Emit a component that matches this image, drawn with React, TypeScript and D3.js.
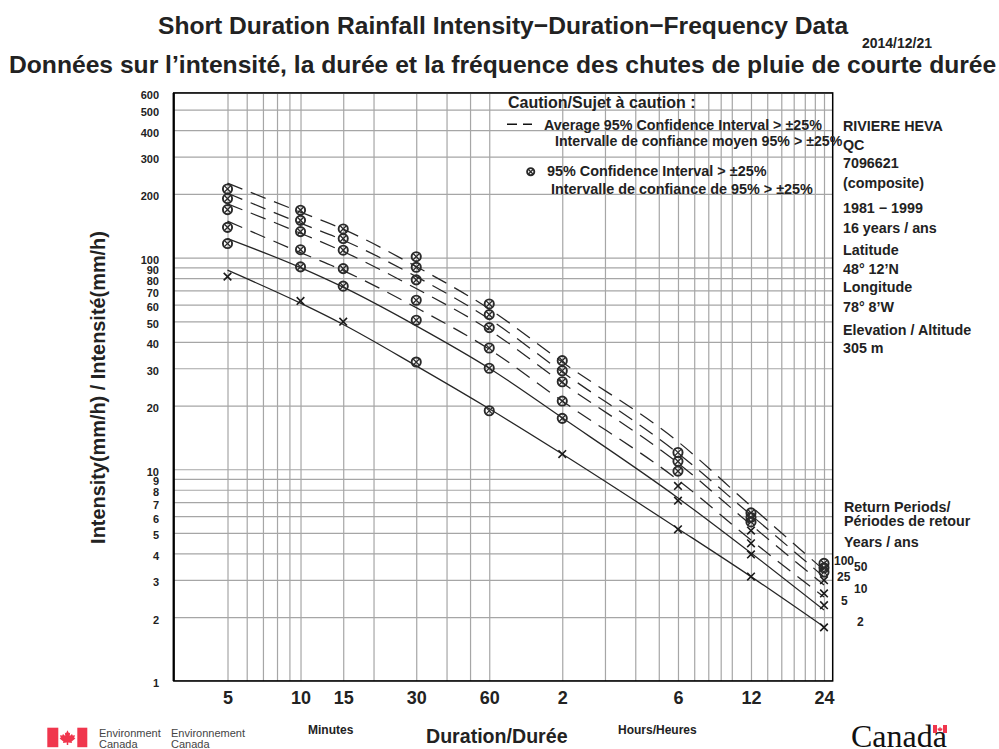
import React, { useEffect, useRef } from 'react';
import * as d3 from 'd3';

// durations in minutes
const lineDurations = [5, 10, 15, 30, 60, 120, 360, 720, 1440];
const gridDurations = [5, 6, 7, 8, 9, 10, 15, 20, 30, 40, 50, 60, 120, 180, 240, 300, 360, 420, 480, 540, 600, 720, 840, 960, 1080, 1200, 1320, 1440];
const labelDurations = [5, 10, 15, 30, 60, 120, 360, 720, 1440];
const durationLabels = ['5', '10', '15', '30', '60', '2', '6', '12', '24'];
const gridIntensity = [1, 2, 3, 4, 5, 6, 7, 8, 9, 10, 20, 30, 40, 50, 60, 70, 80, 90, 100, 200, 300, 400, 500, 600];

// fitted curves, mm/h
const fit100 = [224.7, 163.9, 136.2, 90.7, 57.2, 32.1, 13.5, 6.69, 3.34];
const fit50 = [201.5, 145.4, 120.8, 81.3, 51.2, 28.8, 11.9, 6.08, 3.1];
const fit25 = [179.4, 130.4, 106.8, 71.4, 45.5, 25.6, 10.7, 5.46, 2.84];
const fit10 = [148.6, 105.6, 86.8, 58.0, 36.9, 21.0, 8.9, 4.63, 2.49];
const fit5 = [123, 89.7, 72.5, 47.6, 30.0, 17.5, 7.32, 4.02, 2.16];
const fit2 = [87.2, 60.9, 48.3, 30.8, 19.3, 11.8, 5.24, 3.11, 1.8];

// observed points, [minutes, mm/h]
const circledPoints: [number, number][] = [
    [5, 211], [5, 190], [5, 168.6], [5, 139], [5, 116.5],
    [10, 167.5], [10, 150], [10, 132.7], [10, 109], [10, 90.4],
    [15, 136.6], [15, 123], [15, 108.4], [15, 88.7], [15, 73.3],
    [30, 101], [30, 90], [30, 78.5], [30, 62.9], [30, 50.6], [30, 32.1],
    [60, 60.4], [60, 53.8], [60, 46.7], [60, 37.4], [60, 30], [60, 18.9],
    [120, 32.6], [120, 29.2], [120, 25.9], [120, 21], [120, 17.4],
    [360, 12.0], [360, 10.9], [360, 9.8],
    [720, 6.22], [720, 5.92], [720, 5.64],
    [1440, 3.59], [1440, 3.42], [1440, 3.27],
];
const crossedPoints: [number, number][] = [
    [5, 81.3], [10, 62.4], [15, 49.8], [120, 11.8],
    [360, 8.34], [360, 7.1], [360, 5.2],
    [720, 5.13], [720, 4.47], [720, 3.96], [720, 3.11],
    [1440, 2.99], [1440, 2.59], [1440, 2.28], [1440, 1.79],
];

const returnLabels = ['100', '50', '25', '10', '5', '2'];
const returnLabelX = [834, 854, 837, 854, 841, 857];
const returnLabelY = [565, 571, 581, 593, 605, 626];

const stationLines = ['RIVIERE HEVA', 'QC', '7096621', '(composite)', '1981 − 1999', '16 years / ans', 'Latitude', '48°  12’N', 'Longitude', '78° 8’W', 'Elevation / Altitude', '305 m'];
const stationY = [131, 150, 168, 188, 213, 233, 255, 274, 292, 312, 335, 353];

const FONT = '"Liberation Sans", Arial, sans-serif';
const INK = '#222';

const MAPLE = 'M0,-9 L2,-5 L3.5,-6 L3,-1.5 L6,-4 L7,-2 L10,-2.5 L9,1 L10.5,2 L5.5,6 L6,8 L1,7.3 L1,10.5 L-1,10.5 L-1,7.3 L-6,8 L-5.5,6 L-10.5,2 L-9,1 L-10,-2.5 L-7,-2 L-6,-4 L-3,-1.5 L-3.5,-6 L-2,-5 Z';

const App: React.FC = () => {
    const svgRef = useRef<SVGSVGElement>(null);

    useEffect(() => {
        if (!svgRef.current) return;
        const svg = d3.select(svgRef.current);
        svg.selectAll('*').remove();

        const x = d3.scaleLog().domain([3, 1564]).range([173.7, 832.7]);
        const y = d3.scaleLog().domain([1, 600]).range([680.9, 92.9]);
        const bottom = y(1);
        const left = x(3);

        const label = (tx: number, ty: number, str: string, size: number, weight = 'bold', anchor = 'start') =>
            svg.append('text').attr('x', tx).attr('y', ty).attr('font-family', FONT).attr('font-size', size)
                .attr('font-weight', weight).attr('text-anchor', anchor).attr('fill', INK).text(str);

        // grid
        const xGrid = svg.append('g').attr('transform', `translate(0,${bottom})`)
            .call(d3.axisBottom(x).tickValues(gridDurations).tickSize(y(600) - bottom).tickFormat(() => ''));
        const yGrid = svg.append('g').attr('transform', `translate(${left},0)`)
            .call(d3.axisLeft(y).tickValues(gridIntensity).tickSize(left - x(1564)).tickFormat(() => ''));
        [xGrid, yGrid].forEach(g => {
            g.select('.domain').remove();
            g.selectAll('.tick line').attr('stroke', '#a6a6a6').attr('stroke-width', 1.2);
        });

        // tick labels
        const xLabels = svg.append('g').attr('transform', `translate(0,${bottom})`)
            .call(d3.axisBottom(x).tickValues(labelDurations).tickSize(0)
                .tickFormat((d) => durationLabels[labelDurations.indexOf(+d)]));
        xLabels.select('.domain').remove();
        xLabels.selectAll('text').attr('y', 23).attr('dy', 0).attr('font-family', FONT).attr('font-size', 18)
            .attr('font-weight', 'bold').attr('fill', INK);

        const yLabels = svg.append('g').attr('transform', 'translate(159,0)')
            .call(d3.axisLeft(y).tickValues(gridIntensity).tickSize(0).tickPadding(0).tickFormat(d3.format('d')));
        yLabels.select('.domain').remove();
        yLabels.selectAll('text').attr('dy', 6).attr('font-family', FONT).attr('font-size', 11)
            .attr('font-weight', 'bold').attr('fill', INK);

        // fitted curves
        const line = d3.line<number>()
            .x((_, i) => x(lineDurations[i]))
            .y(d => y(d))
            .curve(d3.curveMonotoneX);
        [fit100, fit50, fit25, fit10].forEach(values => {
            svg.append('path').attr('d', line(values)).attr('fill', 'none').attr('stroke', '#262626')
                .attr('stroke-width', 1.25).attr('stroke-dasharray', '16 9');
        });
        [fit5, fit2].forEach(values => {
            svg.append('path').attr('d', line(values)).attr('fill', 'none').attr('stroke', '#262626').attr('stroke-width', 1.25);
        });

        // markers
        const circled = (cx: number, cy: number, r = 5) => {
            const g = svg.append('g').attr('transform', `translate(${cx},${cy})`).attr('stroke', '#2a2a2a').attr('fill', 'none');
            g.append('circle').attr('r', r - 0.4).attr('stroke-width', 1.9);
            const k = r * 0.62;
            g.append('path').attr('d', `M${-k},${-k}L${k},${k}M${-k},${k}L${k},${-k}`).attr('stroke-width', 1.3);
        };
        circledPoints.forEach(([d, v]) => circled(x(d), y(v)));
        crossedPoints.forEach(([d, v]) => {
            svg.append('path').attr('transform', `translate(${x(d)},${y(v)})`)
                .attr('d', 'M-3.8,-3.8L3.8,3.8M-3.8,3.8L3.8,-3.8').attr('stroke', '#1a1a1a').attr('stroke-width', 1.6);
        });

        // frame
        svg.append('rect').attr('x', left).attr('y', y(600)).attr('width', x(1564) - left).attr('height', bottom - y(600))
            .attr('fill', 'none').attr('stroke', '#000').attr('stroke-width', 1.5);
        svg.append('line').attr('x1', left).attr('x2', left).attr('y1', y(600)).attr('y2', bottom).attr('stroke', '#000').attr('stroke-width', 2.2);

        // titles
        label(158, 34, 'Short Duration Rainfall Intensity−Duration−Frequency Data', 24.6);
        label(9, 73, 'Données sur l’intensité, la durée et la fréquence des chutes de pluie de courte durée', 24.65);
        label(862, 48, '2014/12/21', 14).attr('textLength', 70).attr('lengthAdjust', 'spacingAndGlyphs');

        // caution box
        label(508, 108, 'Caution/Sujet à caution :', 16);
        svg.append('path').attr('d', 'M507,124.3H517M523,124.3H532').attr('stroke', '#111').attr('stroke-width', 1.4);
        label(544, 130, 'Average 95% Confidence Interval > ±25%', 14.3);
        label(555, 146, 'Intervalle de confiance moyen 95% > ±25%', 14.2);
        circled(530.7, 171.7, 4);
        label(547, 176, '95% Confidence Interval > ±25%', 14.4);
        label(551, 194, 'Intervalle de confiance de 95% > ±25%', 14.4);

        // station info
        stationLines.forEach((s, i) => label(843, stationY[i], s, 14.3));
        label(844, 512, 'Return Periods/', 14.3);
        label(844, 526, 'Périodes de retour', 14.3);
        label(844, 547, 'Years / ans', 14.3);
        returnLabels.forEach((s, i) => label(returnLabelX[i], returnLabelY[i], s, 12));

        // axis titles
        label(426, 743, 'Duration/Durée', 19.6);
        label(308, 734, 'Minutes', 12);
        label(618, 734, 'Hours/Heures', 12);
        label(0, 0, 'Intensity(mm/h) / Intensité(mm/h)', 19.9, 'bold', 'middle')
            .attr('transform', 'translate(105,387.5) rotate(-90)');

        // logos
        const flag = svg.append('g').attr('fill', '#f0364d');
        flag.append('rect').attr('x', 47.3).attr('y', 727.7).attr('width', 11).attr('height', 19.5);
        flag.append('rect').attr('x', 77.3).attr('y', 727.7).attr('width', 10).attr('height', 19.5);
        flag.append('path').attr('d', MAPLE).attr('transform', 'translate(67.5,737) scale(0.75)');
        label(99, 737, 'Environment', 11, 'normal').attr('fill', '#444');
        label(99, 747.5, 'Canada', 11, 'normal').attr('fill', '#444');
        label(171, 737, 'Environnement', 11, 'normal').attr('fill', '#444');
        label(171, 747.5, 'Canada', 11, 'normal').attr('fill', '#444');

        svg.append('text').attr('x', 851).attr('y', 746.5).attr('font-family', '"Liberation Serif", serif')
            .attr('font-size', 32).attr('fill', '#111').text('Canada');
        const wordFlag = svg.append('g').attr('fill', '#f0364d');
        wordFlag.append('rect').attr('x', 933).attr('y', 725).attr('width', 4).attr('height', 8);
        wordFlag.append('rect').attr('x', 943).attr('y', 725).attr('width', 4).attr('height', 8);
        wordFlag.append('path').attr('d', MAPLE).attr('transform', 'translate(940,729) scale(0.25)');
    }, []);

    return (
        <svg ref={svgRef} width={999} height={749} viewBox="0 0 999 749"
            style={{ position: 'absolute', left: 0, top: 0, background: '#fff' }} />
    );
};

export default App;
